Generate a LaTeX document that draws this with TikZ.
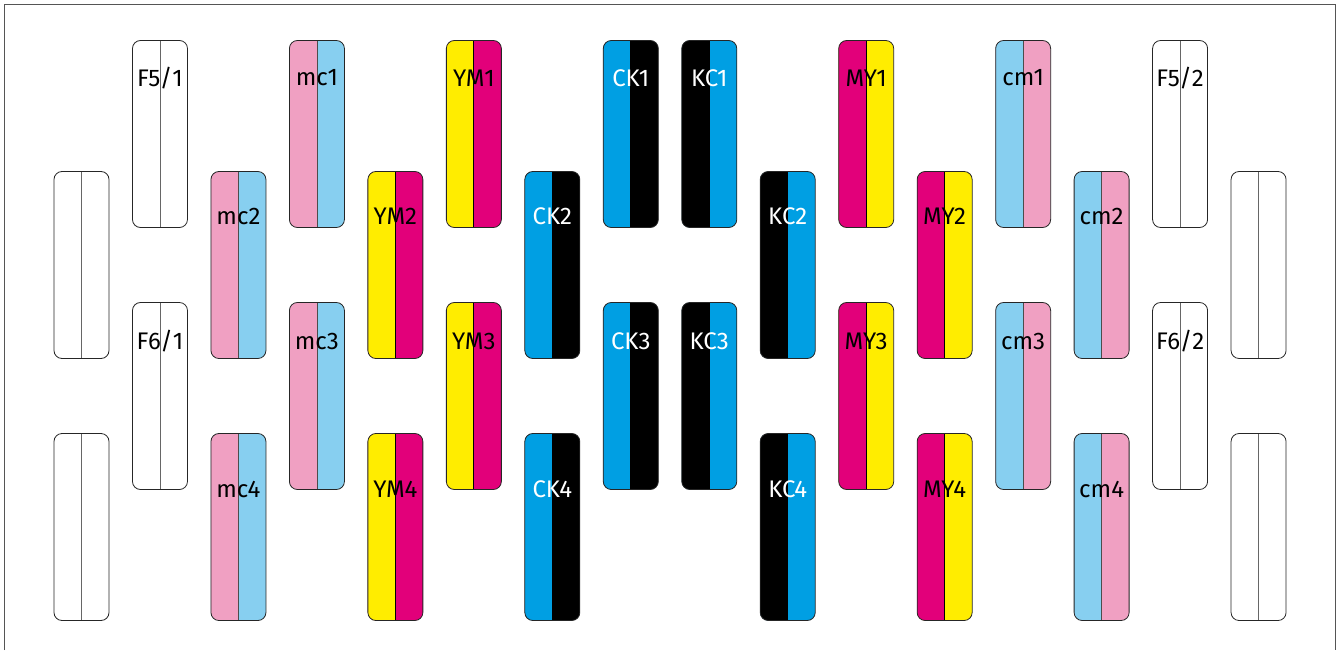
\documentclass[tikz,border=0pt]{standalone}
\usepackage{fontspec}
\setmainfont{Fira Sans}
\usetikzlibrary{positioning,calc}
\definecolor{inkpink}{HTML}{F0A0C2}
\definecolor{inksky}{HTML}{87CFF0}
\definecolor{inkyellow}{HTML}{FFED00}
\definecolor{inkmagenta}{HTML}{E2007A}
\definecolor{inkcyan}{HTML}{009FE3}
\definecolor{inkgray}{HTML}{555555}
\tikzset{
  pill/.style   ={draw=black!85, line width=0.8pt, rounded corners=8pt,
                  minimum width=55pt, minimum height=187pt, inner sep=0pt},
  halves/.style n args={3}{fill=#2, path picture={
      \fill[#1, sharp corners] ([xshift=-2pt,yshift=-2pt]path picture bounding box.south west)
        rectangle ([yshift=2pt]path picture bounding box.north);
      \draw[#3, line width=0.8pt, sharp corners] (path picture bounding box.south) -- (path picture bounding box.north);}},
  tag/.style    ={font=\fontsize{24}{24}\selectfont, inner sep=0pt},
  frame/.style  ={draw=inkgray, line width=1pt},
}
% #1 name, #2 column, #3 centre y, #4 left ink, #5 right ink, #6 divider
\newcommand{\pill}[6]{%
  \node[pill, halves={#4}{#5}{#6}] (#1) at ({81.5+78.47*#2},#3) {};}

\begin{document}
\begin{tikzpicture}[x=1pt,y=-1pt]
  \useasboundingbox (0,0) rectangle (1340,650);
  \draw[frame] (4,650) -- (4,5) -- (1335,5) -- (1335,650);
  % blank pairs at the edges
  \pill{e1}{0}{265}{white}{white}{black!60}
  \pill{e2}{0}{527}{white}{white}{black!60}
  \pill{e3}{15}{265}{white}{white}{black!60}
  \pill{e4}{15}{527}{white}{white}{black!60}
  \pill{f51}{1}{134}{white}{white}{black!60}
  \pill{f61}{1}{396}{white}{white}{black!60}
  \pill{f52}{14}{134}{white}{white}{black!60}
  \pill{f62}{14}{396}{white}{white}{black!60}
  % light magenta / light cyan
  \pill{mc1}{3}{134}{inkpink}{inksky}{black!70}
  \pill{mc2}{2}{265}{inkpink}{inksky}{black!70}
  \pill{mc3}{3}{396}{inkpink}{inksky}{black!70}
  \pill{mc4}{2}{527}{inkpink}{inksky}{black!70}
  \pill{cm1}{12}{134}{inksky}{inkpink}{black!70}
  \pill{cm2}{13}{265}{inksky}{inkpink}{black!70}
  \pill{cm3}{12}{396}{inksky}{inkpink}{black!70}
  \pill{cm4}{13}{527}{inksky}{inkpink}{black!70}
  % yellow / magenta
  \pill{ym1}{5}{134}{inkyellow}{inkmagenta}{black}
  \pill{ym2}{4}{265}{inkyellow}{inkmagenta}{black}
  \pill{ym3}{5}{396}{inkyellow}{inkmagenta}{black}
  \pill{ym4}{4}{527}{inkyellow}{inkmagenta}{black}
  \pill{my1}{10}{134}{inkmagenta}{inkyellow}{black}
  \pill{my2}{11}{265}{inkmagenta}{inkyellow}{black}
  \pill{my3}{10}{396}{inkmagenta}{inkyellow}{black}
  \pill{my4}{11}{527}{inkmagenta}{inkyellow}{black}
  % cyan / black
  \pill{ck1}{7}{134}{inkcyan}{black}{black}
  \pill{ck2}{6}{265}{inkcyan}{black}{black}
  \pill{ck3}{7}{396}{inkcyan}{black}{black}
  \pill{ck4}{6}{527}{inkcyan}{black}{black}
  \pill{kc1}{8}{134}{black}{inkcyan}{black}
  \pill{kc2}{9}{265}{black}{inkcyan}{black}
  \pill{kc3}{8}{396}{black}{inkcyan}{black}
  \pill{kc4}{9}{527}{black}{inkcyan}{black}
  % labels
  \foreach \p/\t in {f51/F5\slash 1,mc1/mc1,ym1/YM1,my1/MY1,cm1/cm1,f52/F5\slash 2}
    \node[tag] (t-\p) at ($(\p.north)+(0,38)$) {\t};
  \foreach \p/\t in {f61/F6\slash 1,mc3/mc3,ym3/YM3,my3/MY3,cm3/cm3,f62/F6\slash 2}
    \node[tag] (t-\p) at ($(\p.north)+(0,39)$) {\t};
  \foreach \p/\t in {mc2/mc2,ym2/YM2,my2/MY2,cm2/cm2}
    \node[tag] (t-\p) at ($(\p.north)+(0,45)$) {\t};
  \foreach \p/\t in {mc4/mc4,ym4/YM4,my4/MY4,cm4/cm4}
    \node[tag] (t-\p) at ($(\p.north)+(0,56)$) {\t};
  \foreach \p/\t/\d in {ck1/CK1/38,kc1/KC1/38,ck3/CK3/39,kc3/KC3/39,ck2/CK2/45,kc2/KC2/45,ck4/CK4/56,kc4/KC4/56}
    \node[tag, text=white] (t-\p) at ($(\p.north)+(0,\d)$) {\t};
\end{tikzpicture}
\end{document}
